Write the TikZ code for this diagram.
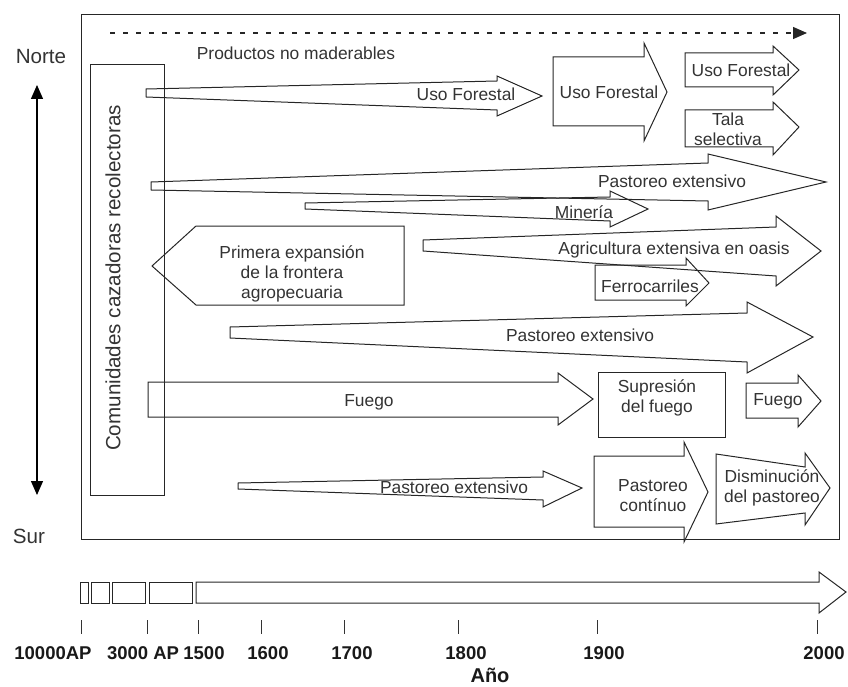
\documentclass[tikz,border=0pt]{standalone}
\usepackage{fontspec}
\setmainfont{Liberation Sans}
\usetikzlibrary{arrows.meta}

\tikzset{
  blk/.style={line width=1pt, draw=black!85},
  lbl/.style={font=\fontsize{17.4}{20}\selectfont, text=black!80, align=center, inner sep=0pt},
  big/.style={font=\fontsize{20.6}{24}\selectfont, text=black!80, inner sep=0pt},
  yr/.style={font=\fontsize{18.5}{21}\selectfont\bfseries, text=black!90, inner sep=0pt}
}

\begin{document}
\begin{tikzpicture}[x=1pt,y=-1pt]
\useasboundingbox (0,0) rectangle (848,687);

% marco principal
\draw[blk] (81,15) rectangle (839,539);
\draw[blk, line width=1.3pt, dash pattern=on 5pt off 8pt, -{Triangle[length=14pt,width=12pt]}] (110,33) -- (807,33);
\node[lbl] (pnm) at (296,53) {Productos no maderables};

% norte / sur
\node[big] (norte) at (41,57) {Norte};
\node[big] (sur) at (29,536) {Sur};
\coordinate (ns1) at (37,85);
\coordinate (ns2) at (37,495);
\draw[line width=1.3pt, {Triangle[length=14pt,width=12pt]}-{Triangle[length=14pt,width=12pt]}] (ns1) -- (ns2);

% comunidades
\draw[blk] (90,65) rectangle (164,495);
\node[big, rotate=90] (com) at (113,278) {Comunidades cazadoras recolectoras};

% uso forestal
\draw[blk] (146,89) -- (497,81) -- (497,76) -- (542,96) -- (497,116) -- (497,110) -- (146,97) -- cycle;
\node[lbl] (uf1) at (466,94) {Uso Forestal};
\draw[blk] (553,57) -- (644,57) -- (644,43) -- (667,92) -- (644,141) -- (644,126) -- (553,126) -- cycle;
\node[lbl] (uf2) at (609,92) {Uso Forestal};
\draw[blk] (685,53) -- (773,53) -- (773,46) -- (799,70) -- (773,95) -- (773,87) -- (685,87) -- cycle;
\node[lbl] (uf3) at (741,70) {Uso Forestal};
\draw[blk] (685,110) -- (773,110) -- (773,102) -- (799,127) -- (773,155) -- (773,147) -- (685,147) -- cycle;
\node[lbl] (tala) at (728,129) {Tala\\selectiva};

% pastoreo, mineria
\draw[blk] (151,182) -- (708,163) -- (708,154) -- (826,182) -- (708,210) -- (708,201) -- (151,190) -- cycle;
\node[lbl] (past1) at (672,181) {Pastoreo extensivo};
\draw[blk] (305,203) -- (610,197) -- (610,191) -- (648,209) -- (610,227) -- (610,221) -- (305,209) -- cycle;
\node[lbl] (min) at (584,212) {Minería};

% primera expansion
\draw[blk] (196,226) -- (404,226) -- (404,305) -- (196,305) -- (152,266) -- cycle;
\node[lbl] (prim) at (292,274) {Primera expansión\\de la frontera\\agropecuaria};

% agricultura, ferrocarriles
\draw[blk] (423,240) -- (776,227) -- (776,216) -- (821,251) -- (776,286) -- (776,276) -- (423,251) -- cycle;
\node[lbl] (agri) at (674,250) {Agricultura extensiva en oasis};
\draw[blk] (595,265) -- (686,265) -- (686,258) -- (709,283) -- (686,306) -- (686,300) -- (595,300) -- cycle;
\node[lbl] (ferro) at (650,286) {Ferrocarriles};

\draw[blk] (230,327) -- (747,313) -- (747,302) -- (813,337) -- (747,373) -- (747,362) -- (230,338) -- cycle;
\node[lbl] (past2) at (580,335) {Pastoreo extensivo};

% fuego
\draw[blk] (148,382) -- (558,382) -- (558,373) -- (593,399) -- (558,425) -- (558,417) -- (148,417) -- cycle;
\node[lbl] (fuego1) at (369,402) {Fuego};
\draw[blk] (598,372) rectangle (725,437);
\node[lbl] (sup) at (657,398) {Supresión\\del fuego};
\draw[blk] (746,383) -- (798,383) -- (798,375) -- (821,401) -- (798,427) -- (798,418) -- (746,418) -- cycle;
\node[lbl] (fuego2) at (778,401) {Fuego};

% pastoreo abajo
\draw[blk] (238,483) -- (543,477) -- (543,471) -- (582,488) -- (543,507) -- (543,500) -- (238,489) -- cycle;
\node[lbl] (past3) at (454,487) {Pastoreo extensivo};
\draw[blk] (594,456) -- (684,456) -- (684,442) -- (708,492) -- (684,542) -- (684,527) -- (594,527) -- cycle;
\node[lbl] (cont) at (653,496) {Pastoreo\\contínuo};
\draw[blk] (716,454) -- (805,467) -- (805,453) -- (830,488) -- (805,525) -- (805,513) -- (716,524) -- cycle;
\node[lbl] (dism) at (772,488) {Disminución\\del pastoreo};

% linea de tiempo
\draw[blk] (80,582) rectangle (88,603);
\draw[blk] (91,582) rectangle (109,603);
\draw[blk] (112,582) rectangle (145,603);
\draw[blk] (149,582) rectangle (192,603);
\draw[blk] (196,582) -- (819,582) -- (819,572) -- (846,592) -- (819,613) -- (819,603) -- (196,603) -- cycle;

\foreach \tx in {81,147,198,261,344,458,597,817}
  \draw[line width=1pt, black!80] (\tx,620) -- (\tx,634);

\node[yr] (y1) at (53,653) {10000AP};
\node[yr] (y2) at (143,653) {3000 AP};
\node[yr] (y3) at (204,653) {1500};
\node[yr] (y4) at (268,653) {1600};
\node[yr] (y5) at (352,653) {1700};
\node[yr] (y6) at (466,653) {1800};
\node[yr] (y7) at (604,653) {1900};
\node[yr] (y8) at (824,653) {2000};
\node[yr, font=\fontsize{20}{24}\selectfont\bfseries] (anio) at (490,675) {Año};

\end{tikzpicture}
\end{document}
